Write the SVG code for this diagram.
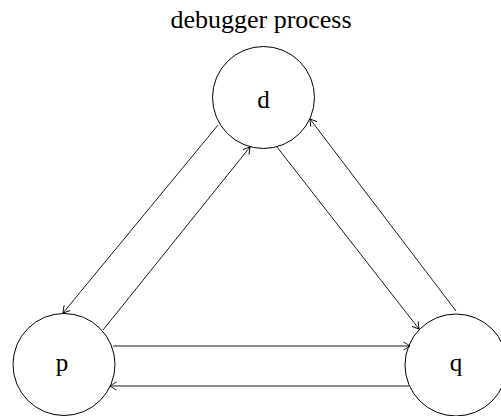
<svg xmlns="http://www.w3.org/2000/svg" width="501" height="416" viewBox="0 0 501 416">
<defs>
<style>
.node{fill:#fff;stroke:#000;stroke-width:1}
.lbl{font-family:"Liberation Serif","Times New Roman",serif;font-size:25px;fill:#000;text-anchor:middle}
.title{font-size:26px}
.edge{fill:none;stroke:#000;stroke-width:0.9;marker-end:url(#arr)}
</style>
<marker id="arr" markerUnits="userSpaceOnUse" viewBox="-8 -5 10 10" refX="0" refY="0" markerWidth="10" markerHeight="10" orient="auto" overflow="visible">
<path d="M -6.5 -4 Q -1.5 -1 0 0 Q -1.5 1 -6.5 4" fill="none" stroke="#000" stroke-width="0.9"/>
</marker>
</defs>
<text class="lbl title" x="261" y="28">debugger process</text>
<g id="node-d">
<circle class="node" cx="263.5" cy="97.5" r="51"/>
<text class="lbl" x="263.5" y="108">d</text>
</g>
<g id="node-p">
<circle class="node" cx="64" cy="364.5" r="51"/>
<text class="lbl" x="62" y="371">p</text>
</g>
<g id="node-q">
<circle class="node" cx="456" cy="365" r="51"/>
<text class="lbl" x="456" y="371">q</text>
</g>
<g id="connectors">
<line class="edge" x1="218" y1="125" x2="63" y2="313"/>
<line class="edge" x1="103" y1="330" x2="250" y2="147"/>
<line class="edge" x1="277" y1="147" x2="419" y2="329"/>
<line class="edge" x1="456" y1="311" x2="310" y2="119"/>
<line class="edge" x1="113" y1="346" x2="410" y2="346"/>
<line class="edge" x1="409" y1="386" x2="110" y2="386"/>
</g>
</svg>
